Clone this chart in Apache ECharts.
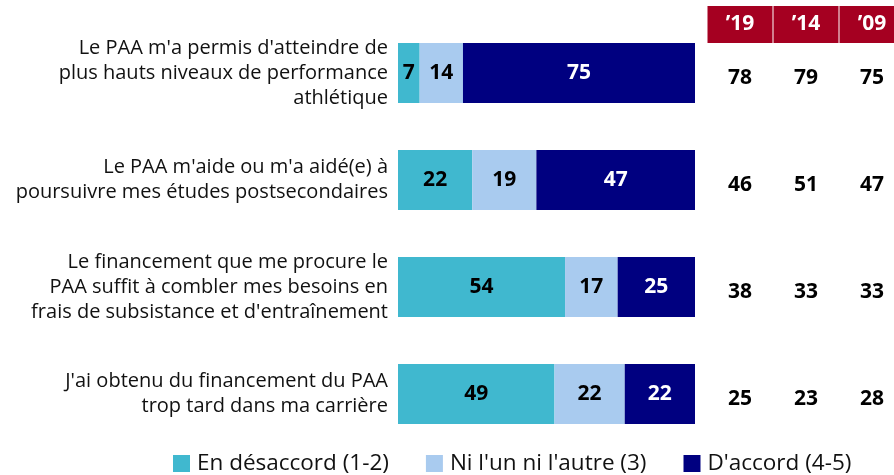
<!DOCTYPE html>
<html>
<head>
<meta charset="utf-8">
<script src="https://cdn.jsdelivr.net/npm/echarts@6/dist/echarts.min.js"></script>
<style>
  html, body { margin: 0; padding: 0; background: #fff; }
  #main { width: 894px; height: 475px; }
</style>
</head>
<body>
<div id="main"></div>
<script>
// énoncés (catégories)
var categories = [
  "Le PAA m'a permis d'atteindre de\nplus hauts niveaux de performance\nathlétique",
  "Le PAA m'aide ou m'a aidé(e) à\npoursuivre mes études postsecondaires",
  "Le financement que me procure le\nPAA suffit à combler mes besoins en\nfrais de subsistance et d'entraînement",
  "J'ai obtenu du financement du PAA\ntrop tard dans ma carrière"
];
var seriesNames = ['En désaccord (1-2)', "Ni l'un ni l'autre (3)", "D'accord (4-5)"];
var disagree = [7, 22, 54, 49];
var neutral = [14, 19, 17, 22];
var agree = [75, 47, 25, 22];

// colonnes de comparaison
var years = ['’19', '’14', '’09'];
var y2019 = [78, 46, 38, 25];
var y2014 = [79, 51, 33, 23];
var y2009 = [75, 47, 33, 28];

var colors = ['#40B8CF', '#A9CBEF', '#000080'];
var font = 'Open Sans';

var totals = categories.map(function (c, i) { return disagree[i] + neutral[i] + agree[i]; });

function barSeries(name, values, color, labelColor) {
  return {
    name: name,
    type: 'bar',
    stack: 'total',
    barWidth: 60,
    itemStyle: { color: color },
    label: {
      show: true,
      position: 'inside',
      color: labelColor,
      fontFamily: font,
      fontWeight: 'bold',
      fontSize: 21,
      formatter: function (p) { return values[p.dataIndex]; }
    },
    data: values.map(function (v, i) { return v / totals[i] * 100; })
  };
}

function yearSeries(idx, values) {
  return {
    type: 'scatter',
    xAxisIndex: 1,
    yAxisIndex: 1,
    symbolSize: 1,
    silent: true,
    itemStyle: { opacity: 1, color: 'rgba(0,0,0,0)' },
    label: {
      show: true,
      position: 'inside',
      offset: [0, 5],
      color: '#000',
      fontFamily: font,
      fontWeight: 'bold',
      fontSize: 21,
      formatter: function (p) { return p.value[2]; }
    },
    data: values.map(function (v, i) { return [years[idx], categories[i], v]; })
  };
}

var myChart = echarts.init(document.getElementById('main'));
myChart.setOption({
  animation: false,
  grid: [
    { left: 398, width: 297, top: 19.5, height: 428, outerBoundsMode: 'none' },
    { left: 707, width: 198, top: 19.5, height: 428, outerBoundsMode: 'none' }
  ],
  legend: {
    data: seriesNames,
    left: 173,
    top: 452,
    padding: 0,
    icon: 'rect',
    itemWidth: 17,
    itemHeight: 17,
    itemGap: 37,
    textStyle: { fontFamily: font, fontSize: 22.5, color: '#111', padding: [0, 0, 0, 2] }
  },
  xAxis: [
    { type: 'value', gridIndex: 0, min: 0, max: 100, show: false },
    {
      type: 'category', gridIndex: 1, data: years, position: 'top', offset: -23.5,
      axisLine: { show: false }, axisTick: { show: false },
      axisLabel: {
        interval: 0,
        margin: 0,
        color: '#fff',
        fontFamily: font,
        fontWeight: 'bold',
        fontSize: 21,
        backgroundColor: '#A50021',
        width: 65,
        height: 37,
        lineHeight: 37,
        align: 'center'
      }
    }
  ],
  yAxis: [
    {
      type: 'category', gridIndex: 0, data: categories, inverse: true,
      axisLine: { show: false }, axisTick: { show: false },
      axisLabel: {
        margin: 10,
        color: '#111',
        fontFamily: font,
        fontSize: 20,
        lineHeight: 25,
        align: 'right'
      }
    },
    {
      type: 'category', gridIndex: 1, data: categories, inverse: true, show: false
    }
  ],
  series: [
    barSeries(seriesNames[0], disagree, colors[0], '#000'),
    barSeries(seriesNames[1], neutral, colors[1], '#000'),
    barSeries(seriesNames[2], agree, colors[2], '#fff'),
    yearSeries(0, y2019),
    yearSeries(1, y2014),
    yearSeries(2, y2009)
  ]
});
</script>
</body>
</html>
